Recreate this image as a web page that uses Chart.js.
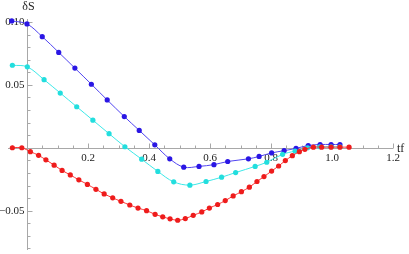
<!DOCTYPE html>
<html>
<head>
<meta charset="utf-8">
<script src="https://cdn.jsdelivr.net/npm/chart.js@4.4.1/dist/chart.umd.min.js"></script>
<style>
  html, body { margin: 0; padding: 0; background: #fff; }
  #wrap { width: 409px; height: 254px; }
</style>
</head>
<body>
<div id="wrap"><canvas id="chart" width="409" height="254"></canvas></div>
<script>
// values
const tfBlue = [-0.050, 0.000, 0.050, 0.104, 0.157, 0.211, 0.263, 0.319, 0.368, 0.419, 0.468, 0.514,
  0.564, 0.613, 0.658, 0.726, 0.761, 0.802, 0.843, 0.882, 0.922, 0.961, 0.997, 1.026];
const dsBlue = [0.1008, 0.0984, 0.0883, 0.0758, 0.0633, 0.0505, 0.0380, 0.0248, 0.0138, 0.0023, -0.0088, -0.0154,
  -0.0148, -0.0134, -0.0109, -0.0088, -0.0069, -0.0041, -0.0023, -0.0005, 0.0018, 0.0026, 0.0026, 0.0026];

const tfCyan = [-0.048, 0.001, 0.056, 0.109, 0.163, 0.216, 0.269, 0.321, 0.376, 0.429, 0.481, 0.534,
  0.587, 0.638, 0.684, 0.748, 0.786, 0.838, 0.879, 0.920, 0.960, 0.997, 1.026];
const dsCyan = [0.0656, 0.0643, 0.0541, 0.0435, 0.0326, 0.0219, 0.0112, 0.0008, -0.0091, -0.0188, -0.0271, -0.0297,
  -0.0268, -0.0234, -0.0197, -0.0148, -0.0115, -0.0052, -0.0026, 0.0000, 0.0008, 0.0008, 0.0008];

const tfRed = [-0.048, -0.017, 0.011, 0.038, 0.062, 0.089, 0.115, 0.142, 0.170, 0.198, 0.226, 0.253, 0.281, 0.308,
  0.337, 0.364, 0.392, 0.420, 0.445, 0.469, 0.494, 0.519, 0.545, 0.573, 0.598, 0.625, 0.650, 0.676, 0.703, 0.729,
  0.754, 0.777, 0.802, 0.825, 0.847, 0.870, 0.893, 0.911, 0.939, 0.966, 0.997, 1.026, 1.056];
const dsRed = [0.0000, 0.0000, -0.0031, -0.0060, -0.0096, -0.0138, -0.0180, -0.0216, -0.0255, -0.0291, -0.0330, -0.0367,
  -0.0398, -0.0426, -0.0455, -0.0479, -0.0500, -0.0529, -0.0549, -0.0565, -0.0576, -0.0563, -0.0537, -0.0510, -0.0479,
  -0.0451, -0.0420, -0.0383, -0.0349, -0.0313, -0.0268, -0.0229, -0.0185, -0.0145, -0.0102, -0.0063, -0.0031, -0.0012,
  0.0005, 0.0005, 0.0005, 0.0005, 0.0005];

const xTickValues = [0.2, 0.4, 0.6, 0.8, 1.0, 1.2];
const xTickLabels = ["0.2", "0.4", "0.6", "0.8", "1.0", "1.2"];
const yTickValues = [-0.05, 0.05, 0.10];
const yTickLabels = ["\u22120.05", "0.05", "0.10"];

const serif = "'Liberation Serif', 'DejaVu Serif', serif";

function toPoints(xs, ys) {
  return xs.map((x, i) => ({ x, y: ys[i] }));
}

function series(xs, ys, line, dot) {
  return {
    data: toPoints(xs, ys),
    borderColor: line,
    backgroundColor: dot,
    pointBackgroundColor: dot,
    pointBorderColor: dot,
    pointBorderWidth: 0,
    pointRadius: 2.6,
    borderWidth: 1,
    tension: 0.35,
    clip: false
  };
}

// Mathematica-style axes crossing at the origin
const mathAxes = {
  id: "mathAxes",
  beforeDatasetsDraw(chart) {
    const { ctx, chartArea, scales: { x, y } } = chart;
    const x0 = Math.round(x.getPixelForValue(0)) + 0.5;
    const y0 = Math.round(y.getPixelForValue(0)) + 0.5;
    ctx.save();
    ctx.strokeStyle = "#a8a8a8";
    ctx.lineWidth = 1;
    ctx.beginPath();
    ctx.moveTo(chartArea.left, y0);
    ctx.lineTo(chartArea.right, y0);
    ctx.moveTo(x0, chartArea.top);
    ctx.lineTo(x0, chartArea.bottom);

    for (let i = -1; i <= 24; i++) {
      if (i === 0) continue;
      const px = Math.round(x.getPixelForValue(i * 0.05)) + 0.5;
      const len = i % 4 === 0 ? 5 : 3;
      ctx.moveTo(px, y0);
      ctx.lineTo(px, y0 - len);
    }
    for (let i = -8; i <= 10; i++) {
      if (i === 0) continue;
      const py = Math.round(y.getPixelForValue(i * 0.01)) + 0.5;
      const len = i % 5 === 0 ? 5 : 3;
      ctx.moveTo(x0, py);
      ctx.lineTo(x0 + len, py);
    }
    ctx.stroke();

    ctx.fillStyle = "#222";
    ctx.font = "11px " + serif;
    ctx.textAlign = "center";
    ctx.textBaseline = "alphabetic";
    xTickValues.forEach((v, i) => {
      ctx.fillText(xTickLabels[i], x.getPixelForValue(v), y0 + 12);
    });
    ctx.textAlign = "right";
    ctx.textBaseline = "middle";
    yTickValues.forEach((v, i) => {
      ctx.fillText(yTickLabels[i], x0 - 3, y.getPixelForValue(v));
    });

    ctx.font = "12px " + serif;
    ctx.textAlign = "center";
    ctx.textBaseline = "alphabetic";
    ctx.fillText("\u03b4S", x0 + 1, 10);
    ctx.textAlign = "left";
    ctx.fillText("tf", 397, y0 + 3);
    ctx.restore();
  }
};

new Chart(document.getElementById("chart"), {
  type: "line",
  data: {
    datasets: [
      series(tfRed, dsRed, "#ff3030", "#ee1c1c"),
      series(tfCyan, dsCyan, "#3ce8e8", "#22dede"),
      series(tfBlue, dsBlue, "#5044f0", "#2a16e4")
    ]
  },
  options: {
    responsive: false,
    animation: false,
    devicePixelRatio: 1,
    layout: { padding: { left: 8, right: 16, top: 19, bottom: 0 } },
    plugins: { legend: { display: false }, tooltip: { enabled: false } },
    scales: {
      x: { type: "linear", min: -0.0623, max: 1.2, display: false },
      y: { type: "linear", min: -0.08125, max: 0.10234, display: false }
    }
  },
  plugins: [mathAxes]
});
</script>
</body>
</html>
